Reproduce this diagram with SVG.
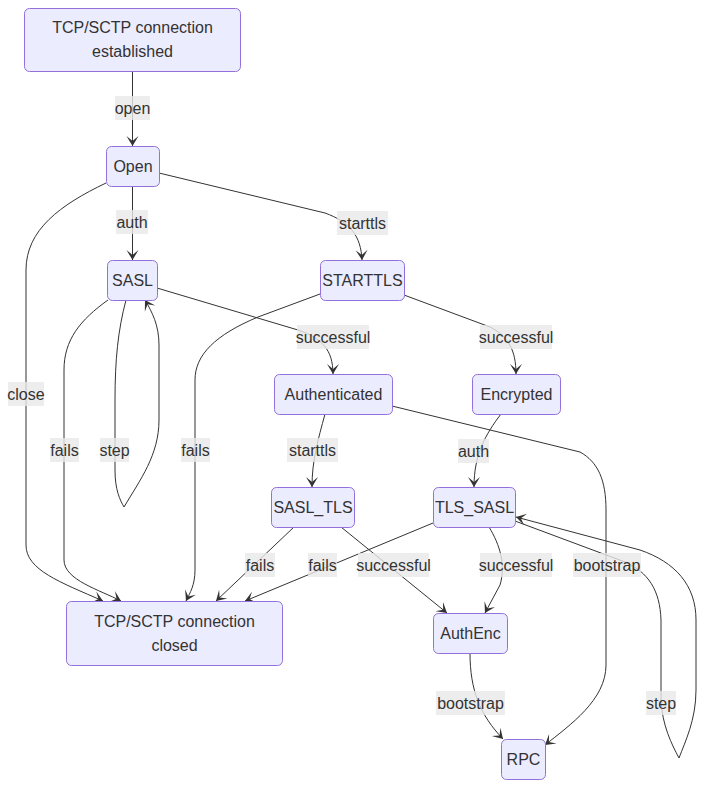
<svg xmlns="http://www.w3.org/2000/svg" width="704" height="788" viewBox="0 0 704 788">
<style>
.node rect{fill:#ECECFF;stroke:#9370DB;stroke-width:1}
.node text{font-family:"Liberation Sans",Arial,sans-serif;font-size:16px;fill:#333;text-anchor:middle}
.edges path{fill:none;stroke:#333;stroke-width:1}
.lbl rect{fill:#e8e8e8;opacity:0.8}
.lbl text{font-family:"Liberation Sans",Arial,sans-serif;font-size:16px;fill:#333;text-anchor:middle}
</style>
<defs>
<marker id="arr" markerWidth="19" markerHeight="14" refX="19" refY="7" orient="auto" markerUnits="userSpaceOnUse">
<path d="M19,7 L9,13 L14,7 L9,1 Z" fill="#333"/>
</marker>
</defs>
<rect width="704" height="788" fill="#fff"/>
<g class="edges" marker-end="url(#arr)">
<path d="M132.5,72 L132.5,146"/>
<path d="M132.5,186 L132.5,260"/>
<path d="M159,173 L325,213 C350,222 361,236 362,260"/>
<path d="M106,183 C60,205 26,230 26,270 L26,545 C26,570 60,582 103,601"/>
<path d="M108,300 C80,320 64,340 64,370 L64,560 C64,580 100,590 121,601"/>
<path d="M126,300 C118,330 115,360 115,400 L115,470 C115,490 120,500 124,507 C140,480 159,455 159,420 L159,345 C159,325 152,312 145,300"/>
<path d="M320,294 L258,317 C215,335 195,355 195,380 L195,570 C195,585 190,593 186,601"/>
<path d="M157,288 L298,330 C322,338 333,350 333,374"/>
<path d="M404,295 L490,327 C508,336 516,350 516,374"/>
<path d="M325,414 C318,440 312,460 312,487"/>
<path d="M501,414 C485,435 474,455 474,487"/>
<path d="M392,406 L580,452 C598,462 606,480 606,510 L606,665 C606,700 570,725 545,745"/>
<path d="M294,527 L216,601"/>
<path d="M433,523 L245,601"/>
<path d="M341,527 L447,613"/>
<path d="M489,527 C500,545 506,565 500,585 L485,613"/>
<path d="M470,653 C470,690 480,715 503,739"/>
<path d="M515,521 L625,562 C648,572 660,590 661,620 L661,700 C662,725 672,745 679,758 C685,742 696,720 696,690 L696,620 C696,585 675,562 640,550 L516,517"/>
</g>
<g class="lbl">
<rect x="115" y="96" width="35" height="24"/><text x="132.5" y="113.5">open</text>
<rect x="116" y="210" width="32" height="24"/><text x="132" y="227.5">auth</text>
<rect x="337" y="211" width="51" height="24"/><text x="362.5" y="228.5">starttls</text>
<rect x="8" y="382" width="36" height="24"/><text x="26" y="399.5">close</text>
<rect x="50" y="438" width="29" height="24"/><text x="64.5" y="455.5">fails</text>
<rect x="100" y="438" width="29" height="24"/><text x="114.5" y="455.5">step</text>
<rect x="181" y="438" width="29" height="24"/><text x="195.5" y="455.5">fails</text>
<rect x="297" y="325" width="72" height="24"/><text x="333" y="342.5">successful</text>
<rect x="480" y="325" width="72" height="24"/><text x="516" y="342.5">successful</text>
<rect x="287" y="438" width="51" height="24"/><text x="312.5" y="455.5">starttls</text>
<rect x="458" y="439" width="31" height="24"/><text x="473.5" y="456.5">auth</text>
<rect x="573" y="553" width="68" height="24"/><text x="607" y="570.5">bootstrap</text>
<rect x="245" y="553" width="30" height="24"/><text x="260" y="570.5">fails</text>
<rect x="308" y="553" width="29" height="24"/><text x="322.5" y="570.5">fails</text>
<rect x="358" y="553" width="71" height="24"/><text x="393.5" y="570.5">successful</text>
<rect x="480" y="553" width="72" height="24"/><text x="516" y="570.5">successful</text>
<rect x="436" y="691" width="69" height="24"/><text x="470.5" y="708.5">bootstrap</text>
<rect x="646" y="691" width="30" height="24"/><text x="661" y="708.5">step</text>
</g>
<g id="established" class="node"><rect x="24.5" y="8.5" width="216" height="63" rx="5"/><text x="132.5" y="32.5">TCP/SCTP connection</text><text x="132.5" y="56.5">established</text></g>
<g id="Open" class="node"><rect x="106.5" y="146.5" width="53" height="40" rx="5"/><text x="133" y="172">Open</text></g>
<g id="SASL" class="node"><rect x="107.5" y="260.5" width="50" height="40" rx="5"/><text x="132.5" y="286">SASL</text></g>
<g id="STARTTLS" class="node"><rect x="320.5" y="260.5" width="84" height="40" rx="5"/><text x="362.5" y="286">STARTTLS</text></g>
<g id="Authenticated" class="node"><rect x="274.5" y="374.5" width="118" height="40" rx="5"/><text x="333.5" y="400">Authenticated</text></g>
<g id="Encrypted" class="node"><rect x="472.5" y="374.5" width="88" height="40" rx="5"/><text x="516.5" y="400">Encrypted</text></g>
<g id="SASL_TLS" class="node"><rect x="271.5" y="487.5" width="83" height="40" rx="5"/><text x="313" y="513">SASL_TLS</text></g>
<g id="TLS_SASL" class="node"><rect x="433.5" y="487.5" width="82" height="40" rx="5"/><text x="474.5" y="513">TLS_SASL</text></g>
<g id="closed" class="node"><rect x="66.5" y="601.5" width="216" height="64" rx="5"/><text x="174.5" y="626.5">TCP/SCTP connection</text><text x="174.5" y="650.5">closed</text></g>
<g id="AuthEnc" class="node"><rect x="433.5" y="613.5" width="74" height="40" rx="5"/><text x="470.5" y="639">AuthEnc</text></g>
<g id="RPC" class="node"><rect x="501.5" y="739.5" width="44" height="40" rx="5"/><text x="523.5" y="765">RPC</text></g>
</svg>
